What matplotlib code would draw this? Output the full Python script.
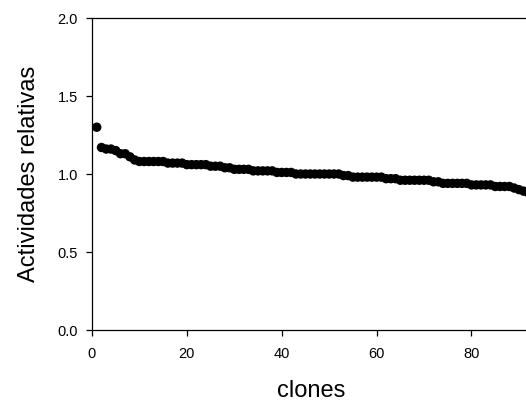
import matplotlib

matplotlib.use("Agg")
import matplotlib.pyplot as plt

plt.rcParams["font.family"] = ["Liberation Sans", "DejaVu Sans"]

# relative activity per clone, sorted descending
activities = [
    1.30, 1.17, 1.16, 1.16, 1.15, 1.13, 1.13, 1.11, 1.09, 1.08,
    1.08, 1.08, 1.08, 1.08, 1.08, 1.07, 1.07, 1.07, 1.07, 1.06,
    1.06, 1.06, 1.06, 1.06, 1.05, 1.05, 1.05, 1.04, 1.04, 1.03,
    1.03, 1.03, 1.03, 1.02, 1.02, 1.02, 1.02, 1.02, 1.01, 1.01,
    1.01, 1.01, 1.00, 1.00, 1.00, 1.00, 1.00, 1.00, 1.00, 1.00,
    1.00, 1.00, 0.99, 0.99, 0.98, 0.98, 0.98, 0.98, 0.98, 0.98,
    0.98, 0.97, 0.97, 0.97, 0.96, 0.96, 0.96, 0.96, 0.96, 0.96,
    0.96, 0.95, 0.95, 0.94, 0.94, 0.94, 0.94, 0.94, 0.94, 0.93,
    0.93, 0.93, 0.93, 0.93, 0.92, 0.92, 0.92, 0.92, 0.91, 0.90,
    0.89, 0.88,
]
clones = list(range(1, len(activities) + 1))
x_ticks = [0, 20, 40, 60, 80]
y_ticks = [0.0, 0.5, 1.0, 1.5, 2.0]

figure = plt.figure(figsize=(5.26, 4.05), dpi=100)
axis = figure.add_axes([92 / 526, 1 - 330 / 405, 1 - 92 / 526 + 0.01, (330 - 18) / 405])
axis.scatter(clones, activities, s=46, color="black", edgecolors="none", zorder=3)

axis.set_xlim(0, 92.6)
axis.set_ylim(0, 2.0)
axis.set_xticks(x_ticks)
axis.set_yticks(y_ticks)
axis.set_yticklabels([f"{v:.1f}" for v in y_ticks])
axis.spines["right"].set_visible(False)
for side in ("left", "bottom", "top"):
    axis.spines[side].set_linewidth(0.9)
axis.tick_params(direction="out", length=4, width=0.9, labelsize=10.5)
axis.tick_params(axis="x", pad=8)
axis.tick_params(axis="y", pad=6)
axis.set_xlabel("clones", fontsize=17, labelpad=14)
axis.set_ylabel("Actividades relativas", fontsize=17, labelpad=13)

figure.savefig("out.png", dpi=100)
plt.close(figure)
